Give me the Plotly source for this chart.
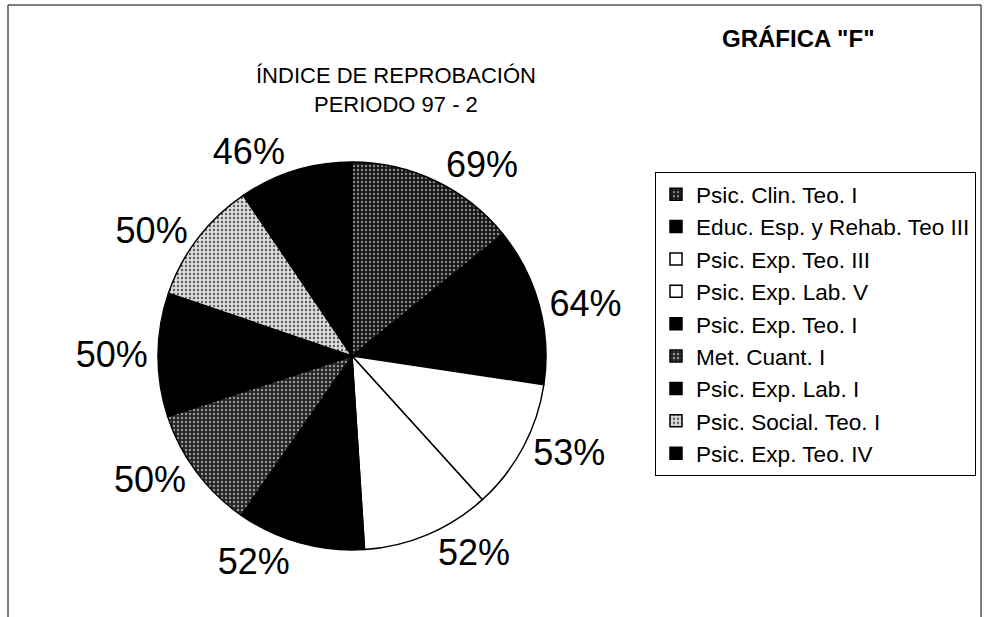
import plotly.graph_objects as go

materias = ["Psic. Clin. Teo. I", "Educ. Esp. y Rehab. Teo III", "Psic. Exp. Teo. III",
            "Psic. Exp. Lab. V", "Psic. Exp. Teo. I", "Met. Cuant. I",
            "Psic. Exp. Lab. I", "Psic. Social. Teo. I", "Psic. Exp. Teo. IV"]
reprobacion = [69, 64, 53, 52, 52, 50, 50, 50, 46]

colores = ["#161616", "#000000", "#ffffff", "#ffffff", "#000000", "#242424", "#000000", "#dcdcdc", "#000000"]
patrones = [".", "", "", "", "", ".", "", ".", ""]
patron_fg = ["#8c8c8c", "#000000", "#000000", "#000000", "#000000", "#9a9a9a", "#000000", "#5a5a5a", "#000000"]

W, H = 989, 617
cx, cy, r = 352, 356, 194

fig = go.Figure(go.Pie(
    labels=materias,
    values=reprobacion,
    sort=False,
    direction="clockwise",
    rotation=0,
    texttemplate="%{value}%",
    textposition="outside",
    textfont=dict(family="Liberation Sans", size=36, color="black"),
    marker=dict(colors=colores, line=dict(color="black", width=1.5),
                pattern=dict(shape=patrones, fgcolor=patron_fg, bgcolor=colores,
                             fillmode="replace", size=4, solidity=0.28)),
    domain=dict(x=[(cx - r) / W, (cx + r) / W], y=[(H - cy - r) / H, (H - cy + r) / H]),
    automargin=False,
    hoverinfo="label+value",
))

fig.update_layout(
    width=W, height=H,
    margin=dict(l=0, r=0, t=0, b=0),
    paper_bgcolor="white",
    font=dict(family="Liberation Sans", color="black"),
    showlegend=True,
    legend=dict(x=655 / W, xanchor="left", y=1 - 172 / H, yanchor="top",
                bordercolor="black", borderwidth=1, bgcolor="white",
                font=dict(family="Liberation Sans", size=22.6, color="black"),
                tracegroupgap=0),
    annotations=[
        dict(text="ÍNDICE DE REPROBACIÓN", x=396 / W, y=1 - 75 / H, xref="paper", yref="paper",
             showarrow=False, font=dict(size=22), xanchor="center", yanchor="middle"),
        dict(text="PERIODO 97 - 2", x=396 / W, y=1 - 104 / H, xref="paper", yref="paper",
             showarrow=False, font=dict(size=22), xanchor="center", yanchor="middle"),
        dict(text="<b>GRÁFICA \"F\"</b>", x=798 / W, y=1 - 38 / H, xref="paper", yref="paper",
             showarrow=False, font=dict(size=24), xanchor="center", yanchor="middle"),
    ],
    shapes=[dict(type="rect", xref="paper", yref="paper", x0=8 / W, x1=981 / W,
                 y0=-0.05, y1=1 - 5 / H, line=dict(color="black", width=1))],
)

fig.write_html("out.html", config={"displayModeBar": False},
               post_script="document.body.style.margin='0px';document.body.style.overflow='hidden';")
